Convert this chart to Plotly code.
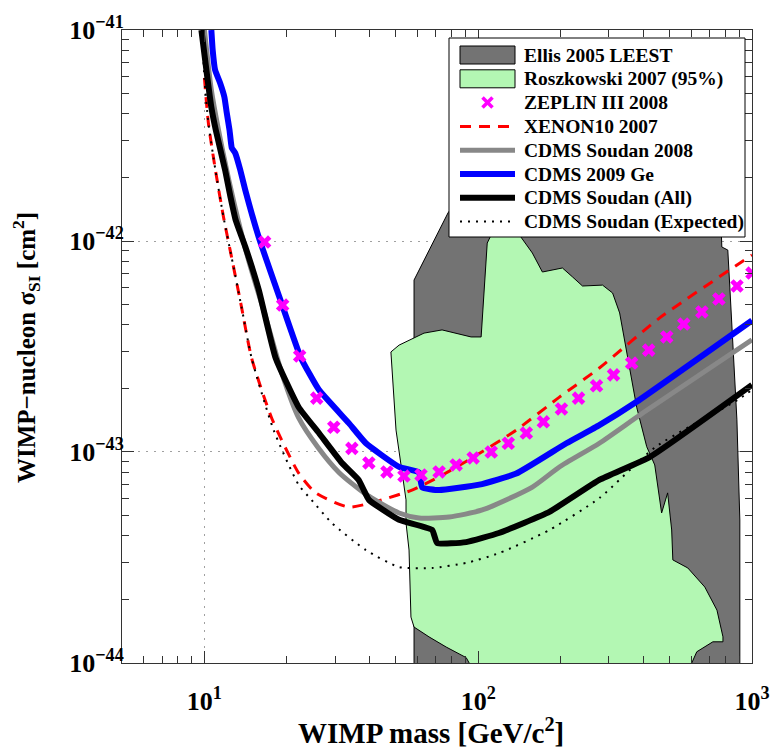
import plotly.graph_objects as go

# ---------------- data ----------------
ellis_mass = [58.3, 58.3, 77.6, 85.2, 85.2, 750, 776, 816, 830, 851, 881, 903, 903]
ellis_sigma = [1e-44, 6.53e-43, 1.36e-42, 1.6e-42, 3.5e-42, 3.5e-42, 9.37e-43, 9.06e-43, 6.05e-43, 3.4e-43, 1.42e-43, 4.76e-44, 1e-44]

rosz_mass = [92.7, 90.4, 76.4, 66.1, 58.3, 56.8, 55.9, 54.5, 54.5, 50.1, 48.0, 51.4, 63.4, 73.8, 94.2, 102.5,
             107.9, 111.6, 119.4, 135.5, 141.3, 157.7, 171.6, 203.1, 221, 240.4, 284.6, 309.7, 328.6, 348.5,
             379.2, 412.6, 441.4, 467.7, 492, 509, 514, 583, 672.6, 744.9, 783.5, 783.5, 719.7, 628.7, 602.6]
rosz_sigma = [1e-44, 1.06e-44, 1.19e-44, 1.33e-44, 1.48e-44, 1.65e-44, 3.43e-44, 4.61e-44, 5.93e-44, 1.27e-43,
              2.98e-43, 3.21e-43, 3.66e-43, 3.79e-43, 3.51e-43, 3.51e-43, 9.78e-43, 1.07e-42, 1.56e-42,
              1.56e-42, 1.07e-42, 8.77e-43, 7.13e-43, 7.45e-43, 6.76e-43, 6.12e-43, 6.18e-43, 5.67e-43,
              4.56e-43, 2.95e-43, 1.63e-43, 1.06e-43, 8.68e-44, 5.14e-44, 6.4e-44, 4.27e-44, 3.08e-44,
              2.82e-44, 2.29e-44, 1.78e-44, 1.33e-44, 1.26e-44, 1.26e-44, 1.13e-44, 1e-44]

zeplin_mass = [16.59, 19.31, 22.28, 25.72, 29.68, 34.56, 39.87, 46.42, 53.57, 61.83, 71.97, 83.07, 95.87,
               111.6, 128.8, 149.9, 173.0, 201.4, 232.5, 270.5, 312.2, 363.4, 419.5, 488.3, 563.6, 656.0,
               757.1, 881.4, 1000]
zeplin_sigma = [9.89e-43, 4.97e-43, 2.85e-43, 1.80e-43, 1.31e-43, 1.04e-43, 8.87e-44, 8.04e-44, 7.69e-44,
                7.78e-44, 8.04e-44, 8.68e-44, 9.37e-44, 1.0e-43, 1.10e-43, 1.23e-43, 1.39e-43, 1.60e-43,
                1.80e-43, 2.06e-43, 2.32e-43, 2.64e-43, 3.04e-43, 3.51e-43, 4.04e-43, 4.61e-43, 5.31e-43,
                6.12e-43, 7.05e-43]

xenon_mass = [10.0, 10.34, 10.97, 11.74, 12.56, 13.66, 14.87, 17.6, 22.1, 25.5, 33.7, 44.4, 57.3, 71.9, 95,
              137.7, 198, 277, 460, 1000]
xenon_sigma = [5.93e-42, 3.62e-42, 2.17e-42, 1.30e-42, 8.4e-43, 4.87e-43, 2.79e-43, 1.45e-43, 7.94e-44, 6.4e-44,
               5.48e-44, 5.93e-44, 6.6e-44, 7.62e-44, 9.38e-44, 1.27e-43, 1.82e-43, 2.5e-43, 4.32e-43, 8.58e-43]

soudan08_mass = [10.0, 10.6, 11.64, 12.88, 14.5, 16.7, 19.2, 22.1, 26.0, 31.0, 38.9, 51.4, 60.8, 78.3, 103.5,
                 157.7, 198, 277, 399, 1000]
soudan08_sigma = [1e-41, 5.2e-42, 2.7e-42, 1.48e-42, 8.1e-43, 4.4e-43, 2.35e-43, 1.45e-43, 1.05e-43, 8.0e-44,
                  6.3e-44, 5.14e-44, 4.87e-44, 4.92e-44, 5.31e-44, 6.82e-44, 8.49e-44, 1.10e-43, 1.53e-43, 3.4e-43]

ge09_mass = [10.6, 10.72, 10.94, 11.41, 11.83, 12.07, 12.35, 12.59, 12.96, 13.52, 14.09, 15.8, 19.1, 22.5,
             26.2, 33.7, 38.9, 51.4, 60.8, 62.4, 71.9, 100.9, 137.7, 210, 277, 379, 1000]
ge09_sigma = [1e-41, 8.04e-42, 6.46e-42, 5.61e-42, 4.81e-42, 4.04e-42, 3.36e-42, 2.76e-42, 2.61e-42, 2.17e-42,
              1.75e-42, 1.04e-42, 5.1e-43, 2.8e-43, 1.97e-43, 1.37e-43, 1.10e-43, 8.5e-44, 8.0e-44, 6.8e-44,
              6.6e-44, 7.0e-44, 7.9e-44, 1.10e-43, 1.34e-43, 1.73e-43, 4.2e-43]

all_mass = [9.75, 10.2, 10.6, 11.0, 11.9, 12.45, 13.0, 14.1, 15.8, 18.2, 22.1, 26.2, 31.8, 36.6, 38.2, 39.9,
            51.4, 67.9, 70.8, 90.4, 119, 182, 277, 423, 1000]
all_sigma = [1e-41, 6.25e-42, 4.3e-42, 3.36e-42, 2.17e-42, 1.62e-42, 1.26e-42, 9.4e-43, 5.86e-43, 2.79e-43,
             1.63e-43, 1.23e-43, 8.87e-44, 7.37e-44, 6.6e-44, 5.93e-44, 4.77e-44, 4.27e-44, 3.7e-44, 3.74e-44,
             4.13e-44, 5.2e-44, 7.37e-44, 9.46e-44, 2.08e-43]

exp_mass = [9.8, 10.0, 10.34, 10.97, 11.74, 12.56, 13.66, 14.87, 17.9, 22.1, 24.6, 29.2, 38.9, 51.4, 67.9,
            90.4, 119.4, 182, 277, 446, 883, 1000]
exp_sigma = [1e-41, 5.93e-42, 3.62e-42, 2.17e-42, 1.30e-42, 8.4e-43, 4.87e-43, 2.79e-43, 1.27e-43, 6.98e-44,
             5.93e-44, 4.61e-44, 3.43e-44, 2.85e-44, 2.82e-44, 2.98e-44, 3.32e-44, 4.27e-44, 6.05e-44,
             1.06e-43, 1.76e-43, 1.97e-43]

x_tick_vals = [10, 100, 1000]
x_tick_text = ["10<sup>1</sup>", "10<sup>2</sup>", "10<sup>3</sup>"]
y_tick_vals = [1e-44, 1e-43, 1e-42, 1e-41]
y_tick_text = ["10<sup>−44</sup>", "10<sup>−43</sup>", "10<sup>−42</sup>", "10<sup>−41</sup>"]
x_range_log = [0.69897, 3.0001]     # 5 ... 1000 GeV/c^2
y_range_log = [-44.0001, -40.9999]
x_title = "WIMP mass [GeV/c<sup>2</sup>]"
y_title = "WIMP−nucleon σ<sub>SI</sub> [cm<sup>2</sup>]"

# ---------------- layout geometry (pixels) ----------------
OFF = 8                       # page body margin of the html page
W, H = 772, 740
ML, MR, MT, MB = 114, 28, 22, 85
PW, PH = W - ML - MR, H - MT - MB


def fx(px):
    return (px - OFF - ML) / PW


def fy(py):
    return (H - MB - (py - OFF)) / PH


FONT = "Liberation Serif"
fig = go.Figure()

fig.add_trace(go.Scatter(x=ellis_mass, y=ellis_sigma, mode="lines", fill="toself",
                         fillcolor="#737373", line=dict(color="black", width=1),
                         name="Ellis 2005 LEEST"))
fig.add_trace(go.Scatter(x=rosz_mass, y=rosz_sigma, mode="lines", fill="toself",
                         fillcolor="#b3f7b3", line=dict(color="black", width=1),
                         name="Roszkowski 2007 (95%)"))
fig.add_trace(go.Scatter(x=xenon_mass, y=xenon_sigma, mode="lines",
                         line=dict(color="#ff0000", width=3, dash="11px,8px", shape="spline", smoothing=0.6),
                         name="XENON10 2007"))
fig.add_trace(go.Scatter(x=soudan08_mass, y=soudan08_sigma, mode="lines",
                         line=dict(color="#888888", width=5, shape="spline", smoothing=0.6),
                         name="CDMS Soudan 2008"))
fig.add_trace(go.Scatter(x=ge09_mass, y=ge09_sigma, mode="lines",
                         line=dict(color="#0000ff", width=6, shape="spline", smoothing=0.4),
                         name="CDMS 2009 Ge"))
fig.add_trace(go.Scatter(x=zeplin_mass, y=zeplin_sigma, mode="markers",
                         marker=dict(symbol="x", size=12, color="#ff00ff", line=dict(width=0)),
                         name="ZEPLIN III 2008"))
fig.add_trace(go.Scatter(x=all_mass, y=all_sigma, mode="lines",
                         line=dict(color="black", width=6, shape="spline", smoothing=0.4),
                         name="CDMS Soudan (All)"))
fig.add_trace(go.Scatter(x=exp_mass, y=exp_sigma, mode="lines",
                         line=dict(color="black", width=2, dash="2px,6px", shape="spline", smoothing=0.6),
                         name="CDMS Soudan (Expected)"))
fig.update_traces(showlegend=False)

axis_common = dict(
    type="log", showline=True, linecolor="#333333", linewidth=1, mirror="allticks",
    ticks="inside", ticklen=12, tickcolor="#333333", tickwidth=1, tickmode="array",
    showgrid=True, gridcolor="#a0a0a0", griddash="2px,6px", gridwidth=1,
    zeroline=False, automargin=False,
    minor=dict(ticks="inside", ticklen=7, tickcolor="#333333", tickwidth=1, dtick="D1", showgrid=False),
    tickfont=dict(family=FONT, size=26, color="black", weight="bold"),
)

fig.update_xaxes(**axis_common, range=x_range_log, tickvals=x_tick_vals, ticktext=x_tick_text,
                 ticklabelstandoff=15)
fig.update_yaxes(**axis_common, range=y_range_log, tickvals=y_tick_vals, ticktext=y_tick_text,
                 ticklabelstandoff=-8)

shapes, annotations = [], []

# axis titles
annotations.append(dict(text=x_title, xref="paper", yref="paper", x=fx(431), y=fy(731),
                        xanchor="center", yanchor="middle", showarrow=False,
                        font=dict(family=FONT, size=29, color="black", weight="bold")))
annotations.append(dict(text=y_title, xref="paper", yref="paper", x=fx(26), y=fy(347),
                        xanchor="center", yanchor="middle", showarrow=False, textangle=-90,
                        font=dict(family=FONT, size=25, color="black", weight="bold")))

# ---------------- hand-built legend (box, symbols, texts) ----------------
legend_order = ["Ellis 2005 LEEST", "Roszkowski 2007 (95%)", "ZEPLIN III 2008", "XENON10 2007",
                "CDMS Soudan 2008", "CDMS 2009 Ge", "CDMS Soudan (All)", "CDMS Soudan (Expected)"]
traces = {t.name: t for t in fig.data}
shapes.append(dict(type="rect", xref="paper", yref="paper", layer="above",
                   x0=fx(449), x1=fx(745), y0=fy(237), y1=fy(38),
                   fillcolor="white", line=dict(color="black", width=1)))
row_y0, row_dy = 55, 23.8
sx0, sx1, tx = 460, 515, 522
for i, name in enumerate(legend_order):
    t = traces[name]
    cy = row_y0 + i * row_dy
    if t.fill == "toself":
        shapes.append(dict(type="rect", xref="paper", yref="paper", layer="above",
                           x0=fx(sx0), x1=fx(sx1), y0=fy(cy + 9), y1=fy(cy - 9),
                           fillcolor=t.fillcolor, line=dict(color="black", width=1)))
    elif t.mode == "markers":
        cx, r = (sx0 + sx1) / 2, 5
        for a, b in ((-r, r), (r, -r)):
            shapes.append(dict(type="line", xref="paper", yref="paper", layer="above",
                               x0=fx(cx - r), x1=fx(cx + r), y0=fy(cy + a), y1=fy(cy + b),
                               line=dict(color=t.marker.color, width=3.5)))
    else:
        shapes.append(dict(type="line", xref="paper", yref="paper", layer="above",
                           x0=fx(sx0), x1=fx(sx1), y0=fy(cy), y1=fy(cy),
                           line=dict(color=t.line.color, width=t.line.width, dash=t.line.dash)))
    annotations.append(dict(text=name, xref="paper", yref="paper", x=fx(tx), y=fy(cy),
                            xanchor="left", yanchor="middle", showarrow=False,
                            font=dict(family=FONT, size=19.5, color="black", weight="bold")))

fig.update_layout(
    width=W, height=H,
    margin=dict(l=ML, r=MR, t=MT, b=MB),
    paper_bgcolor="white", plot_bgcolor="white",
    font=dict(family=FONT, color="black"),
    showlegend=False,
    shapes=shapes, annotations=annotations,
)

fig.write_html("out.html")
